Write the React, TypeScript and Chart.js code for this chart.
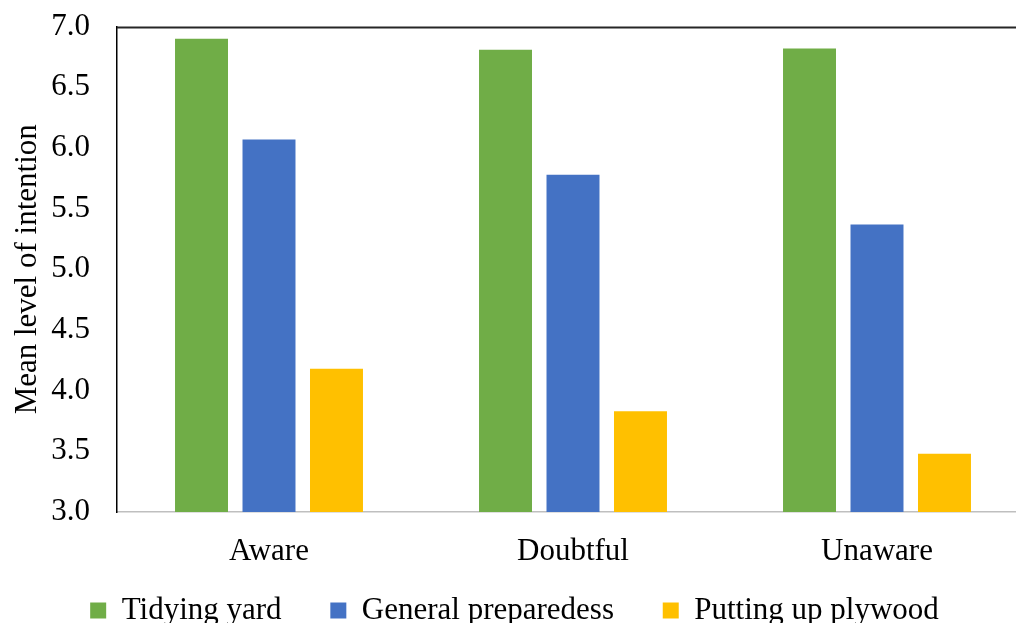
import React, { useEffect, useRef } from "react";
import { Chart, registerables } from "chart.js";

Chart.register(...registerables);

const categories = ["Aware", "Doubtful", "Unaware"];
const seriesNames = ["Tidying yard", "General preparedess", "Putting up plywood"];
const tidyingYard = [6.9, 6.81, 6.82];
const generalPreparedness = [6.07, 5.78, 5.37];
const puttingUpPlywood = [4.18, 3.83, 3.48];
const seriesColors = ["#70AD47", "#4472C4", "#FFC000"];
const yTicks = [3.0, 3.5, 4.0, 4.5, 5.0, 5.5, 6.0, 6.5, 7.0];

const FONT = "'Liberation Serif', 'Times New Roman', serif";
const FS = 31;
const SHIFT = 19;

const topFrame = {
  id: "topFrame",
  afterDraw(chart: any) {
    const { ctx, chartArea } = chart;
    ctx.save();
    ctx.strokeStyle = "#262626";
    ctx.lineWidth = 2;
    ctx.beginPath();
    ctx.moveTo(chartArea.left, chartArea.top + 1);
    ctx.lineTo(chartArea.right, chartArea.top + 1);
    ctx.stroke();
    ctx.restore();
  },
};

export default function App() {
  const ref = useRef<HTMLCanvasElement>(null);
  useEffect(() => {
    if (!ref.current) return;
    const values = [tidyingYard, generalPreparedness, puttingUpPlywood];
    const chart = new Chart(ref.current, {
      type: "bar",
      data: {
        labels: categories,
        datasets: seriesNames.map((name, i) => ({
          label: name,
          data: values[i],
          backgroundColor: seriesColors[i],
          borderWidth: 0,
          categoryPercentage: 0.666,
          barPercentage: 0.785,
        })),
      },
      plugins: [topFrame],
      options: {
        responsive: false,
        animation: false,
        layout: { padding: { left: 0, right: 11, top: 0, bottom: -13 } },
        plugins: {
          tooltip: { enabled: false },
          legend: {
            position: "bottom",
            labels: {
              font: { family: FONT, size: FS },
              color: "#000",
              boxWidth: 16,
              boxHeight: 16,
              padding: 10,
              generateLabels(chart: any) {
                const items = Chart.defaults.plugins.legend.labels.generateLabels(chart);
                return items.map((it: any, i: number) => ({
                  ...it,
                  text: i < items.length - 1 ? it.text + "\u00A0\u00A0\u00A0\u00A0\u00A0" : it.text,
                }));
              },
            },
          },
        },
        scales: {
          x: {
            grid: { display: false, drawTicks: false },
            border: { display: true, color: "#BFBFBF", width: 1.5 },
            ticks: { font: { family: FONT, size: FS }, color: "#000", padding: 21 },
            afterFit(scale: any) {
              scale.height = 73;
            },
          },
          y: {
            min: 3,
            max: 7,
            afterBuildTicks(scale: any) {
              scale.ticks = yTicks.map((v) => ({ value: v }));
            },
            grid: { display: false, drawTicks: false },
            border: { display: true, color: "#000", width: 1.5 },
            ticks: {
              font: { family: FONT, size: FS },
              color: "#000",
              padding: 27,
              callback: (v: any) => Number(v).toFixed(1),
            },
            title: {
              display: true,
              text: "Mean level of intention",
              font: { family: FONT, size: FS },
              color: "#000",
              padding: { top: 9, bottom: 0 },
            },
            afterFit(scale: any) {
              scale.width = 117;
            },
          },
        },
      },
    });
    return () => chart.destroy();
  }, []);
  return (
    <div
      style={{
        position: "fixed",
        left: 0,
        top: 0,
        width: 1016,
        height: 623,
        overflow: "hidden",
        background: "#fff",
      }}
    >
      <canvas
        ref={ref}
        width={1040}
        height={623 + SHIFT}
        style={{ position: "absolute", left: 0, top: -SHIFT }}
      />
    </div>
  );
}
